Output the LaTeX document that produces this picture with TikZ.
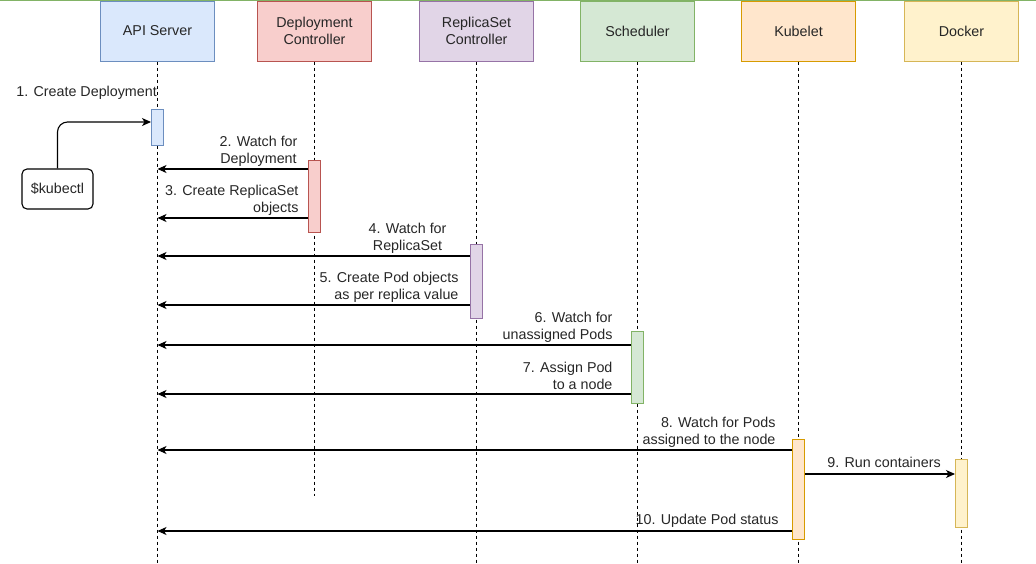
\documentclass[tikz,border=0pt]{standalone}
\usepackage{fontspec}
\setmainfont{Liberation Sans}
\usepackage{tikz}
\usepackage{xcolor}
\usetikzlibrary{calc,positioning,arrows.meta}
\definecolor{blueFill}{HTML}{DAE8FC}
\definecolor{blueLine}{HTML}{6C8EBF}
\definecolor{redFill}{HTML}{F8CECC}
\definecolor{redLine}{HTML}{B85450}
\definecolor{purpleFill}{HTML}{E1D5E7}
\definecolor{purpleLine}{HTML}{9673A6}
\definecolor{greenFill}{HTML}{D5E8D4}
\definecolor{greenLine}{HTML}{82B366}
\definecolor{orangeFill}{HTML}{FFE6CC}
\definecolor{orangeLine}{HTML}{D79B00}
\definecolor{yellowFill}{HTML}{FFF2CC}
\definecolor{yellowLine}{HTML}{D6B656}
\tikzset{
>={Stealth[length=9pt,width=8pt,inset=2.5pt]},
}

\begin{document}
\begin{tikzpicture}[x=1pt,y=-1pt]
      \tikzset{
          every node/.style={font=\fontsize{14.3}{17}\selectfont, text=black!85},
          head/.style={rectangle, line width=1pt, minimum width=114pt, minimum height=60pt, inner sep=0pt, align=center},
          bar/.style={rectangle, line width=1pt, minimum width=12pt, inner sep=0pt},
          term/.style={rectangle, rounded corners=5pt, draw=black, line width=1.1pt, minimum width=71pt, minimum height=40pt, inner sep=0pt},
          lifeline/.style={draw=black, line width=1pt, dash pattern=on 3pt off 3pt},
          myarrow/.style={draw=black, line width=1.1pt, ->},
          msg/.style={inner sep=0pt, align=right},
      }
      \useasboundingbox (0,0) rectangle (1036,563);
      \path[draw=greenLine, line width=2pt] (0,0) -- (1036,0);

      \coordinate (AuxBottom) at (0,563);
      \coordinate (AuxDeployEnd) at (0,496);

      % participants
      \node[head, fill=blueFill, draw=blueLine] (api) at (157.5,31) {API Server};
      \node[head, fill=redFill, draw=redLine, right=42pt of api] (deploy) {Deployment\\Controller};
      \node[head, fill=purpleFill, draw=purpleLine, right=47pt of deploy] (replica) {ReplicaSet\\Controller};
      \node[head, fill=greenFill, draw=greenLine, right=46pt of replica] (sched) {Scheduler};
      \node[head, fill=orangeFill, draw=orangeLine, right=46pt of sched] (kubelet) {Kubelet};
      \node[head, fill=yellowFill, draw=yellowLine, right=48pt of kubelet] (docker) {Docker};

      % lifelines
      \path[lifeline] (api.south) -- (api.south |- AuxBottom);
      \path[lifeline] (deploy.south) -- (deploy.south |- AuxDeployEnd);
      \path[lifeline] (replica.south) -- (replica.south |- AuxBottom);
      \path[lifeline] (sched.south) -- (sched.south |- AuxBottom);
      \path[lifeline] (kubelet.south) -- (kubelet.south |- AuxBottom);
      \path[lifeline] (docker.south) -- (docker.south |- AuxBottom);

      % activations
      \node[bar, fill=blueFill, draw=blueLine, minimum height=36pt] (apiBar) at (api.south |- 0,127) {};
      \node[bar, fill=redFill, draw=redLine, minimum height=72pt] (deployBar) at (deploy.south |- 0,196) {};
      \node[bar, fill=purpleFill, draw=purpleLine, minimum height=74pt] (replicaBar) at (replica.south |- 0,281) {};
      \node[bar, fill=greenFill, draw=greenLine, minimum height=72pt] (schedBar) at (sched.south |- 0,367) {};
      \node[bar, fill=orangeFill, draw=orangeLine, minimum height=100pt] (kubeletBar) at (kubelet.south |- 0,489) {};
      \node[bar, fill=yellowFill, draw=yellowLine, minimum height=68pt] (dockerBar) at (docker.south |- 0,493) {};

      \node[term] (kubectl) at (57.5,189) {\$kubectl};
      \node[msg, anchor=east] (item1) at (157,93) {1. Create Deployment};

      % messages
      \path[myarrow, rounded corners=10pt] (kubectl.north) |- ([yshift=5pt]apiBar.west);
      \path[myarrow] (deployBar.west |- 0,169) -- node[msg, align=center, anchor=east, pos=0, xshift=-10pt, yshift=18pt] {2. Watch for\\Deployment} (api.south |- 0,169);
      \path[myarrow] (deployBar.west |- 0,218) -- node[msg, anchor=east, pos=0, xshift=-9pt, yshift=18pt] {3. Create ReplicaSet\\objects} (api.south |- 0,218);
      \path[myarrow] (replicaBar.west |- 0,256) -- node[msg, align=center, anchor=east, pos=0, xshift=-23pt, yshift=18pt] {4. Watch for\\ReplicaSet} (api.south |- 0,256);
      \path[myarrow] (replicaBar.west |- 0,305) -- node[msg, anchor=east, pos=0, xshift=-11pt, yshift=18pt] {5. Create Pod objects\\as per replica value} (api.south |- 0,305);
      \path[myarrow] (schedBar.west |- 0,345) -- node[msg, anchor=east, pos=0, xshift=-18pt, yshift=18pt] {6. Watch for\\unassigned Pods} (api.south |- 0,345);
      \path[myarrow] (schedBar.west |- 0,394) -- node[msg, anchor=east, pos=0, xshift=-18pt, yshift=18pt] {7. Assign Pod\\to a node} (api.south |- 0,394);
      \path[myarrow] (kubeletBar.west |- 0,450) -- node[msg, anchor=east, pos=0, xshift=-16pt, yshift=18pt] {8. Watch for Pods\\assigned to the node} (api.south |- 0,450);
      \path[myarrow] (kubeletBar.east |- 0,474) -- node[msg, midway, xshift=4pt, yshift=12pt] {9. Run containers} (dockerBar.west |- 0,474);
      \path[myarrow] (kubeletBar.west |- 0,531) -- node[msg, anchor=east, pos=0, xshift=-13pt, yshift=10pt] {10. Update Pod status} (api.south |- 0,531);

      \end{tikzpicture}
\end{document}
